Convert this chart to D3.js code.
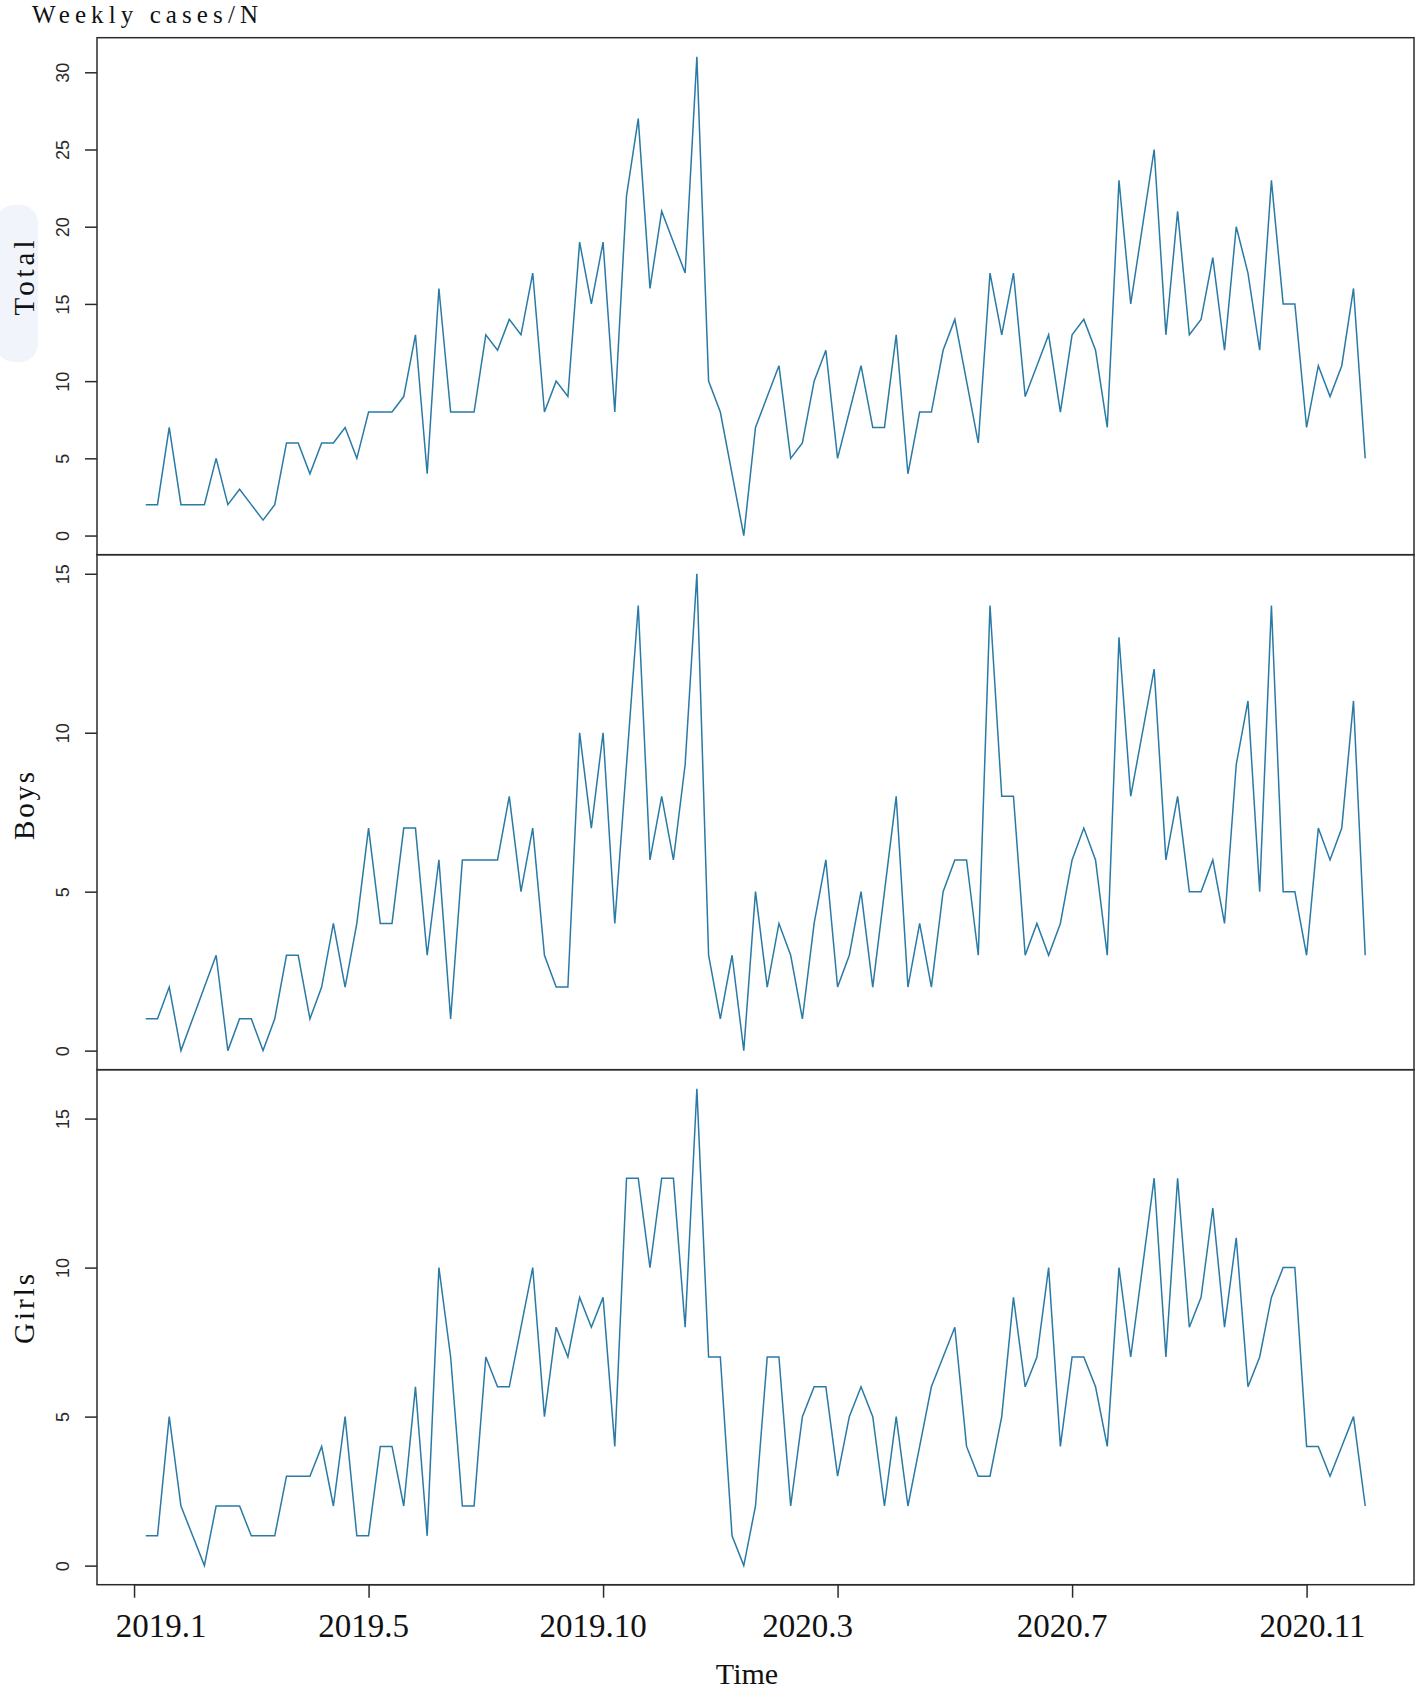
<!DOCTYPE html>
<html>
<head>
<meta charset="utf-8">
<script src="https://cdn.jsdelivr.net/npm/d3@7"></script>
<style>
  html, body { margin: 0; padding: 0; background: #ffffff; }
  svg { display: block; }
</style>
</head>
<body>
<svg id="chart" width="1416" height="1694"></svg>
<script>
// ---------------- data ----------------
const weeks = d3.range(1, 106); // week index 1..105
const totalCases = [2,2,7,2,2,2,5,2,3,2, 1,2,6,6,4,6,6,7,5,8, 8,8,9,13,4,16,8,8,8,13,
  12,14,13,17,8,10,9,19,15,19, 8,22,27,16,21,19,17,31,10,8, 4,0,7,9,11,5,6,10,12,5,
  8,11,7,7,13,4,8,8,12,14, 10,6,17,13,17,9,11,13,8,13, 14,12,7,23,15,20,25,13,21,13,
  14,18,12,20,17,12,23,15,15,7, 11,9,11,16,5];
const boysCases = [1,1,2,0,1,2,3,0,1,1, 0,1,3,3,1,2,4,2,4,7, 4,4,7,7,3,6,1,6,6,6,
  6,8,5,7,3,2,2,10,7,10, 4,9,14,6,8,6,9,15,3,1, 3,0,5,2,4,3,1,4,6,2,
  3,5,2,5,8,2,4,2,5,6, 6,3,14,8,8,3,4,3,4,6, 7,6,3,13,8,10,12,6,8,5,
  5,6,4,9,11,5,14,5,5,3, 7,6,7,11,3];
const girlsCases = [1,1,5,2,1,0,2,2,2,1, 1,1,3,3,3,4,2,5,1,1, 4,4,2,6,1,10,7,2,2,7,
  6,6,8,10,5,8,7,9,8,9, 4,13,13,10,13,13,8,16,7,7, 1,0,2,7,7,2,5,6,6,3,
  5,6,5,2,5,2,4,6,7,8, 4,3,3,5,9,6,7,10,4,7, 7,6,4,10,7,10,13,7,13,8,
  9,12,8,11,6,7,9,10,10,4, 4,3,4,5,2];
const panelNames = ["Total", "Boys", "Girls"];
const yTickValues = [[0,5,10,15,20,25,30],[0,5,10,15],[0,5,10,15]];
const xTickValues = [0, 20, 40, 60, 80, 100];
const xTickLabels = ["2019.1","2019.5","2019.10","2020.3","2020.7","2020.11"];
const yTitle = "Weekly cases/N";
const xTitle = "Time";

// ---------------- layout ----------------
const W = 1416, H = 1694;
const plotLeft = 97, plotRight = 1414;
const panelTops = [37.7, 554.7, 1069.7];
const panelBottoms = [554.7, 1069.7, 1584.7];
const panelLabelY = [278, 806, 1309];
const panelLabelLen = [75, 68, 70];
const xLabelShift = [27, -5, -10, -30, -10, 6];
const lineColor = "#2a7aa6";
const frameColor = "#2b2b2b";

const svg = d3.select("#chart");

// faint background blob behind the first panel label (as in the reference)
svg.append("rect")
  .attr("x", -4).attr("y", 205).attr("width", 42).attr("height", 157)
  .attr("rx", 18).attr("fill", "#f1f5fb");

// x scale (R-style 4% extension)
const xExt = d3.extent(weeks);
const xPad = (xExt[1] - xExt[0]) * 0.04;
const x = d3.scaleLinear().domain([xExt[0] - xPad, xExt[1] + xPad]).range([plotLeft, plotRight]);

const seriesList = [totalCases, boysCases, girlsCases];

seriesList.forEach((vals, i) => {
  const ext = d3.extent(vals);
  const pad = (ext[1] - ext[0]) * 0.04;
  const y = d3.scaleLinear().domain([ext[0] - pad, ext[1] + pad]).range([panelBottoms[i], panelTops[i]]);

  const g = svg.append("g");

  // line
  const line = d3.line().x((d, k) => x(weeks[k])).y(d => y(d));
  g.append("path").datum(vals)
    .attr("d", line)
    .attr("fill", "none")
    .attr("stroke", lineColor)
    .attr("stroke-width", 1.5)
    .attr("stroke-linejoin", "miter");

  // y axis
  const yAxis = d3.axisLeft(y).tickValues(yTickValues[i]).tickSize(12).tickSizeOuter(0).tickPadding(0).tickFormat(d3.format("d"));
  const ay = g.append("g").attr("transform", `translate(${plotLeft},0)`).call(yAxis);
  ay.select(".domain").remove();
  ay.selectAll(".tick line").attr("stroke", frameColor).attr("stroke-width", 1.5);
  ay.selectAll(".tick text")
    .attr("x", null).attr("dy", null)
    .attr("transform", "translate(-34,0) rotate(-90)")
    .attr("text-anchor", "middle")
    .attr("dy", "0.36em")
    .attr("fill", "#2a2a2a")
    .style("font-family", "'Liberation Sans', Arial, sans-serif")
    .style("font-size", "18px");

  // frame
  g.append("rect")
    .attr("x", plotLeft).attr("y", panelTops[i])
    .attr("width", plotRight - plotLeft).attr("height", panelBottoms[i] - panelTops[i])
    .attr("fill", "none").attr("stroke", frameColor).attr("stroke-width", 1.5);

  // panel label
  svg.append("text")
    .attr("transform", `translate(24,${panelLabelY[i]}) rotate(-90)`)
    .attr("text-anchor", "middle")
    .attr("dy", "0.34em")
    .attr("textLength", panelLabelLen[i])
    .attr("lengthAdjust", "spacing")
    .style("font-family", "'Liberation Serif', 'Times New Roman', serif")
    .style("font-size", "29px")
    .attr("fill", "#111")
    .text(panelNames[i]);
});

// x axis: axis line only from first to last tick
const xAxis = d3.axisBottom(x).tickValues(xTickValues).tickSize(13).tickSizeOuter(0).tickFormat("");
const ax = svg.append("g").attr("transform", `translate(0,${panelBottoms[2]})`).call(xAxis);
ax.select(".domain").remove();
ax.append("line")
  .attr("x1", x(xTickValues[0])).attr("x2", x(xTickValues[xTickValues.length - 1]))
  .attr("stroke", frameColor).attr("stroke-width", 1.5);
ax.selectAll(".tick line").attr("stroke", frameColor).attr("stroke-width", 1.5);

svg.append("g").selectAll("text")
  .data(xTickValues)
  .join("text")
  .attr("x", (d, k) => x(d) + xLabelShift[k])
  .attr("y", 1637)
  .attr("text-anchor", "middle")
  .style("font-family", "'Liberation Serif', 'Times New Roman', serif")
  .style("font-size", "33px")
  .attr("fill", "#111")
  .text((d, k) => xTickLabels[k]);

// titles
svg.append("text")
  .attr("x", 747).attr("y", 1684)
  .attr("text-anchor", "middle")
  .style("font-family", "'Liberation Serif', 'Times New Roman', serif")
  .style("font-size", "30px")
  .attr("fill", "#111")
  .text(xTitle);

svg.append("text")
  .attr("x", 32).attr("y", 23)
  .attr("textLength", 226)
  .attr("lengthAdjust", "spacing")
  .style("font-family", "'Liberation Serif', 'Times New Roman', serif")
  .style("font-size", "25px")
  .attr("fill", "#111")
  .text(yTitle);
</script>
</body>
</html>
